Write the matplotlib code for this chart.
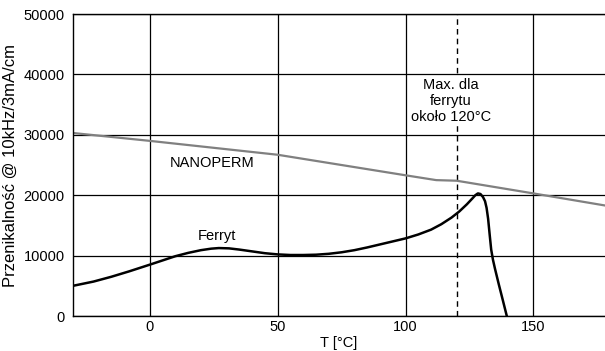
import matplotlib
matplotlib.use("Agg")
import matplotlib.pyplot as plt

plt.rcParams['font.family'] = ['Liberation Sans', 'DejaVu Sans']

# NANOPERM (gray, piecewise linear)
nano_t = [-30, 0, 50, 100, 112, 120, 150, 178]
nano_mu = [30300, 29000, 26700, 23300, 22500, 22400, 20300, 18300]

# Ferryt (black)
fer_t = [-30, -22, -15, -8, 0, 5, 10, 15, 20, 24, 27, 31, 35, 40, 45, 50, 55, 60, 65,
         70, 75, 80, 85, 90, 95, 100, 105, 110, 114, 118, 121, 124, 126, 127.3,
         128.3, 129.3, 130.3, 131.1, 131.7, 132.3, 132.9, 133.5, 134.2, 135,
         136.5, 138, 139.6]
fer_mu = [5000, 5700, 6500, 7400, 8500, 9200, 9900, 10450, 10900, 11150, 11250, 11200,
          11000, 10700, 10400, 10200, 10100, 10100, 10150, 10300, 10550, 10900,
          11350, 11850, 12350, 12850, 13500, 14300, 15200, 16300, 17300, 18500,
          19400, 20000, 20300, 20200, 19700, 19000, 17900, 16100, 13500, 11000,
          9300, 7800, 5200, 2700, 0]

fig = plt.figure(figsize=(6.05, 3.51), dpi=100)
ax = fig.add_axes([0.1207, 0.0997, 0.8793, 0.8603])

ax.grid(True, color='black', linewidth=0.9)
ax.set_axisbelow(True)
ax.axvline(120, color='black', linestyle=(0, (4, 3)), linewidth=1)

ax.plot(nano_t, nano_mu, color='#808080', linewidth=1.6)
ax.plot(fer_t, fer_mu, color='black', linewidth=1.8)

ax.set_xlim(-30, 178)
ax.set_ylim(0, 50000)
ax.set_xticks([0, 50, 100, 150])
ax.set_yticks([0, 10000, 20000, 30000, 40000, 50000])
ax.tick_params(length=0, labelsize=10.5)
ax.tick_params(axis='y', pad=6)
ax.tick_params(axis='x', pad=3)
ax.spines['right'].set_visible(False)
for s in ['left', 'bottom', 'top']:
    ax.spines[s].set_linewidth(1)

ax.text(24.3, 25300, 'NANOPERM', fontsize=10.5, ha='center', va='center')
ax.text(26.3, 13200, 'Ferryt', fontsize=10.5, ha='center', va='center')
ax.text(117.7, 35600, 'Max. dla\nferrytu\nokoło 120°C', fontsize=10.5,
        ha='center', va='center', linespacing=1.15, zorder=5,
        bbox=dict(facecolor='white', edgecolor='none', pad=2))

ax.set_xlabel('T [°C]', fontsize=10.5, labelpad=1)
ax.set_ylabel('Przenikalność @ 10kHz/3mA/cm', fontsize=12, labelpad=4)

fig.savefig('out.png', dpi=100)
